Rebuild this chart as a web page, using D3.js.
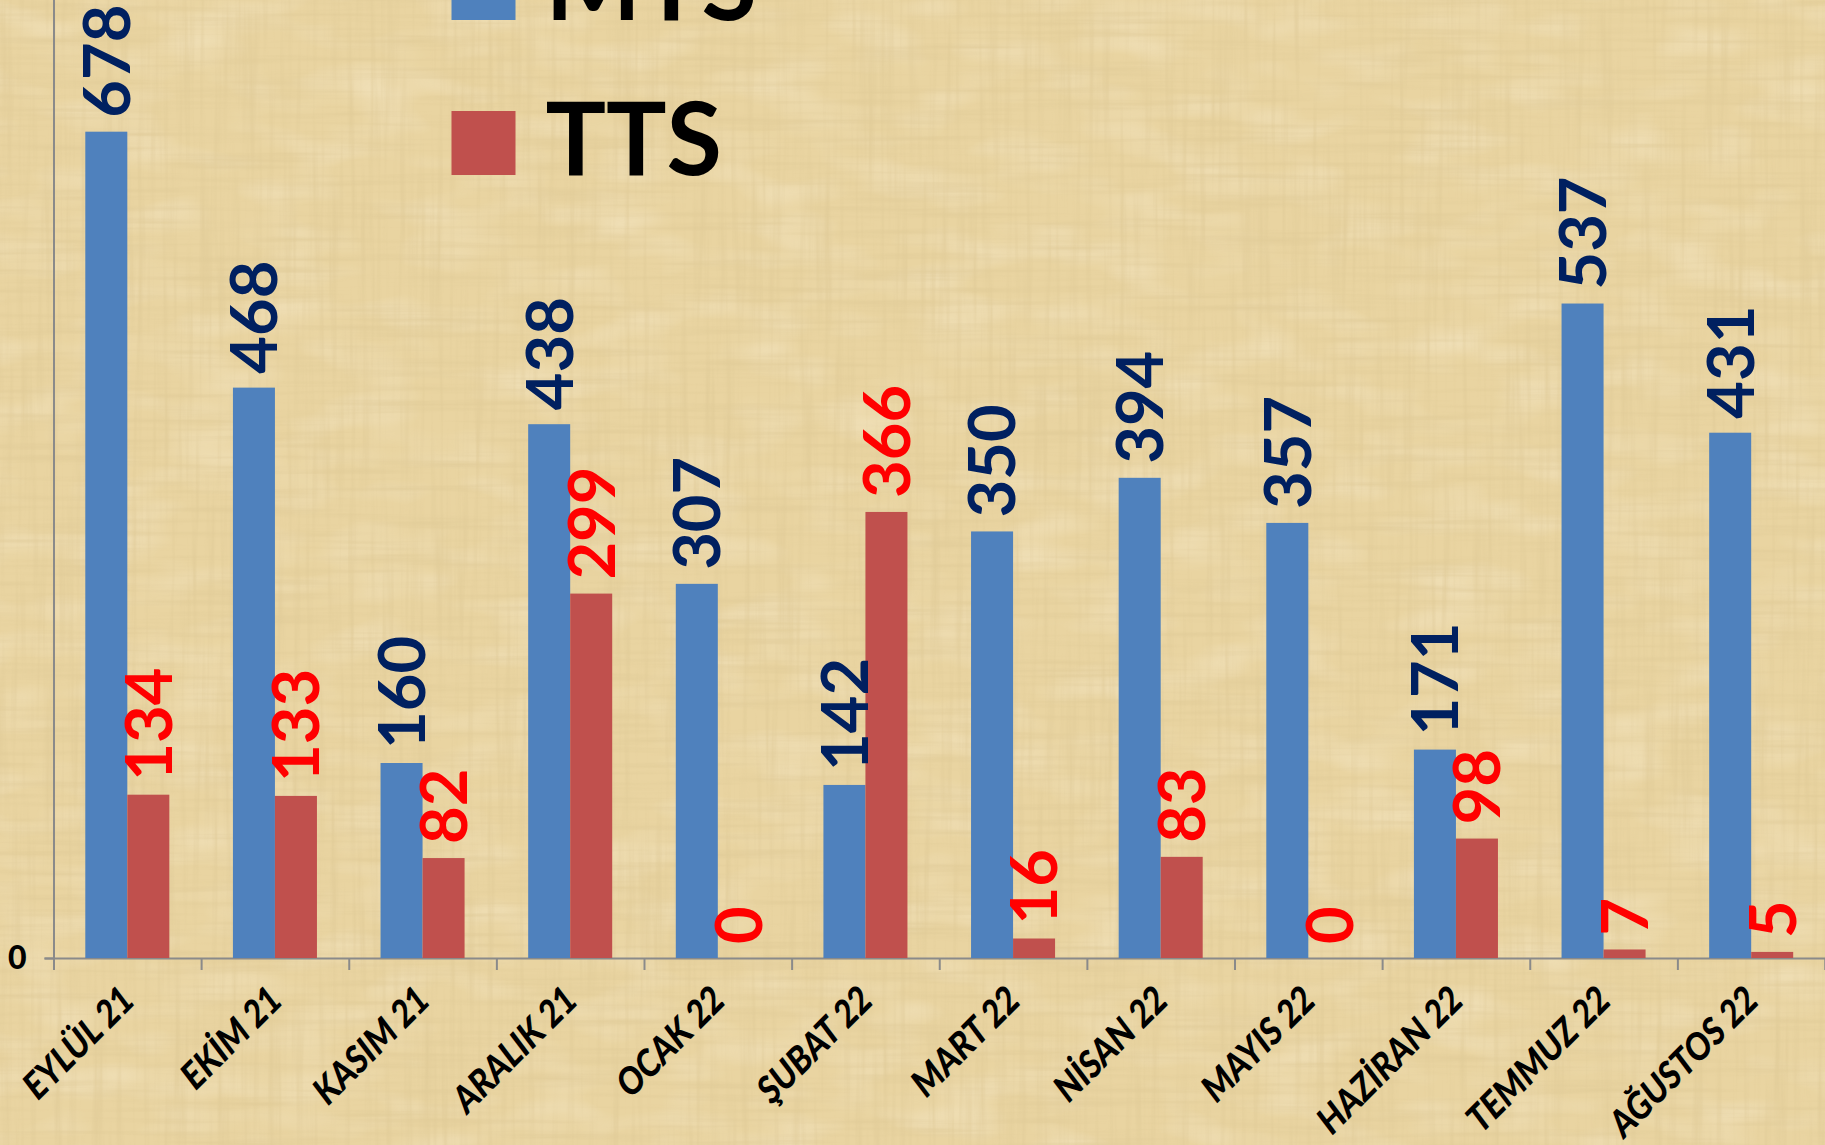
<!DOCTYPE html>
<html>
<head>
<meta charset="utf-8">
<script src="https://cdn.jsdelivr.net/npm/d3@7"></script>
<style>
  body { margin: 0; background: #e9d4a1; }
  svg { display: block; }
  text { font-family: Lato, 'Open Sans', sans-serif; font-weight: bold; }
  .month-label { font-weight: 900; }
</style>
</head>
<body>
<svg id="chart"></svg>
<script>
// data
const months = ['EYLÜL 21', 'EKİM 21', 'KASIM 21', 'ARALIK 21', 'OCAK 22', 'ŞUBAT 22',
  'MART 22', 'NİSAN 22', 'MAYIS 22', 'HAZİRAN 22', 'TEMMUZ 22', 'AĞUSTOS 22'];
const seriesNames = ['MTS', 'TTS'];
const mtsValues = [678, 468, 160, 438, 307, 142, 350, 394, 357, 171, 537, 431];
const ttsValues = [134, 133, 82, 299, 0, 366, 16, 83, 0, 98, 7, 5];
const yTicks = [0];

const config = {
  w: 1825,
  h: 1145,
  left: 53.5,
  right: 1825,
  base: 958,
  top: -17,
  labelSize: 65,
  tickSize: 37,
};

const barColors = { MTS: '#4f81bd', TTS: '#c0504d' };
const labelColors = { MTS: '#002060', TTS: '#ff0000' };
const axisColor = '#8a8a8a';

const svg = d3.select('#chart')
  .attr('width', config.w)
  .attr('height', config.h);

// papyrus background (fine woven fibres)
const defs = svg.append('defs');
const f = defs.append('filter')
  .attr('id', 'papyrus')
  .attr('filterUnits', 'userSpaceOnUse')
  .attr('x', 0).attr('y', 0)
  .attr('width', config.w).attr('height', config.h);
f.append('feTurbulence').attr('type', 'fractalNoise').attr('baseFrequency', '0.006 0.16')
  .attr('numOctaves', 3).attr('seed', 3).attr('result', 'h');
f.append('feColorMatrix').attr('in', 'h').attr('type', 'matrix')
  .attr('values', '0 0 0 0 0.66  0 0 0 0 0.52  0 0 0 0 0.26  1.6 0 0 0 -0.72')
  .attr('result', 'hc');
f.append('feTurbulence').attr('type', 'fractalNoise').attr('baseFrequency', '0.16 0.006')
  .attr('numOctaves', 3).attr('seed', 8).attr('result', 'v');
f.append('feColorMatrix').attr('in', 'v').attr('type', 'matrix')
  .attr('values', '0 0 0 0 0.66  0 0 0 0 0.52  0 0 0 0 0.26  1.6 0 0 0 -0.72')
  .attr('result', 'vc');
f.append('feTurbulence').attr('type', 'fractalNoise').attr('baseFrequency', '0.012 0.03')
  .attr('numOctaves', 2).attr('seed', 12).attr('result', 'b');
f.append('feColorMatrix').attr('in', 'b').attr('type', 'matrix')
  .attr('values', '0 0 0 0 1  0 0 0 0 0.95  0 0 0 0 0.82  1.6 0 0 0 -0.72')
  .attr('result', 'bc');
const merge = f.append('feMerge');
merge.append('feMergeNode').attr('in', 'bc');
merge.append('feMergeNode').attr('in', 'hc');
merge.append('feMergeNode').attr('in', 'vc');

svg.append('rect')
  .attr('width', config.w).attr('height', config.h)
  .attr('fill', '#e9d4a1');
svg.append('rect')
  .attr('width', config.w).attr('height', config.h)
  .attr('fill', '#fff')
  .attr('filter', 'url(#papyrus)')
  .attr('opacity', 0.4);

// scales
const x0 = d3.scaleBand()
  .domain(months)
  .range([config.left, config.right]);

const x1 = d3.scaleBand()
  .domain(seriesNames)
  .range([0, x0.bandwidth()])
  .paddingOuter(0.757);

const y = d3.scaleLinear()
  .domain([0, 800])
  .range([config.base, config.top]);

const xEdges = d3.scaleLinear()
  .domain([0, months.length])
  .range([config.left, config.right]);

// table of bars
const rows = months.map((m, i) => ({ month: m, MTS: mtsValues[i], TTS: ttsValues[i] }));
const bars = rows.flatMap((r) => seriesNames.map((s) => ({ month: r.month, series: s, value: r[s] })));

// axes
const yAxis = d3.axisLeft(y).tickValues(yTicks).tickSize(9).tickPadding(18);
const gy = svg.append('g')
  .attr('transform', `translate(${config.left},0)`)
  .call(yAxis);
gy.selectAll('text').style('font-size', '32px').style('font-weight', 900).attr('fill', '#000');

const xAxisEdges = d3.axisBottom(xEdges).ticks(months.length).tickSize(12).tickFormat('');
svg.append('g')
  .attr('transform', `translate(0,${config.base})`)
  .call(xAxisEdges);

svg.selectAll('.domain, .tick line')
  .attr('stroke', axisColor)
  .attr('stroke-width', 2);

// bars
svg.append('g')
  .selectAll('rect')
  .data(bars)
  .join('rect')
  .attr('x', (d) => x0(d.month) + x1(d.series))
  .attr('y', (d) => y(d.value))
  .attr('width', x1.bandwidth())
  .attr('height', (d) => y(0) - y(d.value))
  .attr('fill', (d) => barColors[d.series]);

// value labels
svg.append('g')
  .selectAll('text')
  .data(bars)
  .join('text')
  .attr('transform', (d) => {
    const cx = x0(d.month) + x1(d.series) + x1.bandwidth() / 2;
    return `translate(${cx},${y(d.value) - 14}) rotate(-90)`;
  })
  .attr('dy', '0.36em')
  .attr('text-anchor', 'start')
  .style('font-size', `${config.labelSize}px`)
  .attr('fill', (d) => labelColors[d.series])
  .text((d) => d.value);

// month labels
svg.append('g')
  .selectAll('text')
  .data(months)
  .join('text')
  .attr('class', 'month-label')
  .attr('transform', (d) => `translate(${x0(d) + x0.bandwidth() / 2 + 8},${config.base + 46}) rotate(-45) skewX(-8) scale(0.86,1)`)
  .attr('text-anchor', 'end')
  .style('font-size', `${config.tickSize}px`)
  .attr('fill', '#000')
  .text((d) => d);

// legend
const legend = svg.append('g')
  .selectAll('g')
  .data(seriesNames)
  .join('g')
  .attr('transform', (d, i) => `translate(451.5,${20 + i * 155})`);
legend.append('rect')
  .attr('x', 0).attr('y', -64)
  .attr('width', 64).attr('height', 64)
  .attr('fill', (d) => barColors[d]);
legend.append('text')
  .attr('x', 94).attr('y', 0)
  .style('font-size', '101px')
  .attr('fill', '#000')
  .text((d) => d);
</script>
</body>
</html>
